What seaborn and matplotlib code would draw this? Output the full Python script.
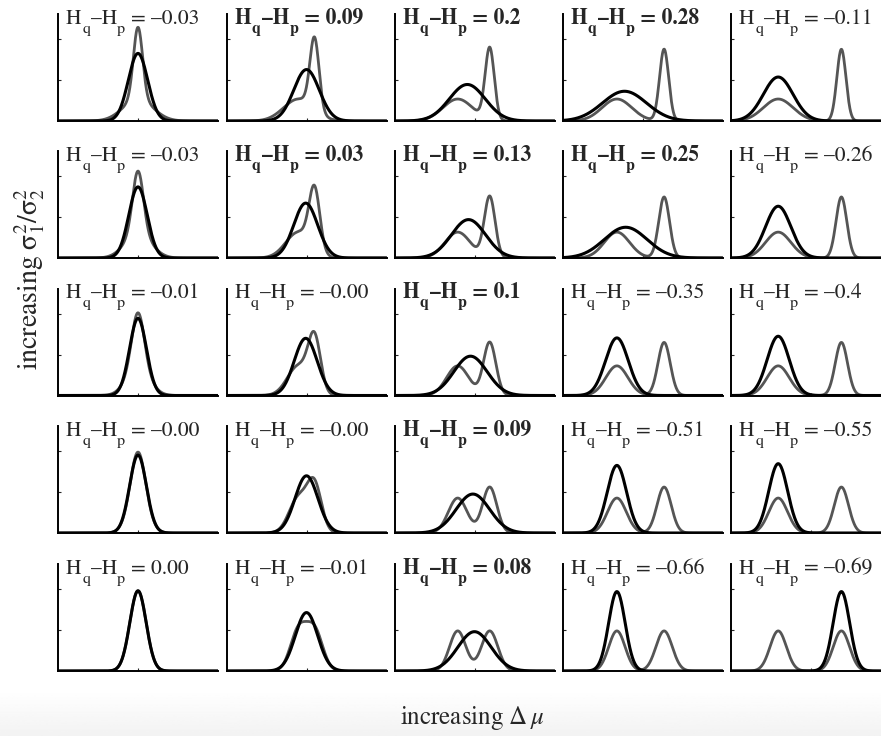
import numpy as np
import pandas as pd
import matplotlib
matplotlib.use("Agg")
import matplotlib.pyplot as plt
import seaborn as sns

# mixture p = 0.5 N(m1, s1) + 0.5 N(m2, s2); columns = increasing delta mu, rows = decreasing variance ratio
m1_cols = [0.0, -0.10, -0.21, -0.32, -0.41]
m2_cols = [0.0, 0.10, 0.19, 0.27, 0.38]
s1_rows = [0.186, 0.158, 0.138, 0.117, 0.102]
s2_rows = [0.057, 0.067, 0.077, 0.089, 0.102]

# fitted gaussian q (mean, sd) per panel
q_mean = [
    [0.0, 0.0, -0.09, -0.225, -0.41],
    [0.0, -0.01, -0.075, -0.21, -0.41],
    [0.0, -0.01, -0.05, -0.32, -0.41],
    [0.0, 0.0, -0.02, -0.32, -0.41],
    [0.0, 0.0, 0.0, -0.32, 0.38],
]
q_sd = [
    [0.121, 0.159, 0.224, 0.275, 0.186],
    [0.115, 0.149, 0.213, 0.266, 0.158],
    [0.106, 0.143, 0.208, 0.142, 0.138],
    [0.105, 0.143, 0.210, 0.121, 0.118],
    [0.102, 0.140, 0.208, 0.103, 0.103],
]

# H_q - H_p labels (bold where positive)
dh_labels = [
    ["–0.03", "0.09", "0.2", "0.28", "–0.11"],
    ["–0.03", "0.03", "0.13", "0.25", "–0.26"],
    ["–0.01", "–0.00", "0.1", "–0.35", "–0.4"],
    ["–0.00", "–0.00", "0.09", "–0.51", "–0.55"],
    ["0.00", "–0.01", "0.08", "–0.66", "–0.69"],
]
dh_bold = [
    [False, True, True, True, False],
    [False, True, True, True, False],
    [False, False, True, False, False],
    [False, False, True, False, False],
    [False, False, True, False, False],
]


def gauss(x, m, s):
    return np.exp(-0.5 * ((x - m) / s) ** 2) / (s * np.sqrt(2 * np.pi))


sns.set_style("white")
plt.rcParams["mathtext.fontset"] = "stix"
plt.rcParams["font.family"] = ["STIXGeneral", "DejaVu Serif"]

W, H = 881, 736
fig = plt.figure(figsize=(W / 100, H / 100), dpi=100)

# faint grey band at the bottom of the screenshot
band = fig.add_axes([0, 0, 1, 46 / H])
band.imshow(np.linspace(1.0, 0.95, 50)[:, None] * np.ones((1, 2)), cmap="gray", vmin=0, vmax=1,
            aspect="auto", extent=[0, 1, 0, 1])
band.axis("off")

xs = np.linspace(-1, 1, 600)
col_left = [58, 226.5, 394.5, 562.5, 731]
row_base = [121, 258, 395.5, 533, 671]
pw, ph = 160, 106.6

# title pieces: (text, x offset px, baseline offset px below axes top, small?)
offs_normal = [("H", 8, 9.5, False), ("q", 24.5, 18.5, True), ("–H", 33, 9.5, False),
               ("p", 59, 18.5, True), (None, 73, 9.5, False)]
offs_bold = [("H", 8.5, 9.5, False), ("q", 25.5, 18.5, True), ("–H", 35.5, 9.5, False),
             ("p", 63, 18.5, True), (None, 77.5, 9.5, False)]

for r in range(5):
    for c in range(5):
        ax = fig.add_axes([col_left[c] / W, 1 - row_base[r] / H, pw / W, ph / H])
        p = 0.5 * gauss(xs, m1_cols[c], s1_rows[r]) + 0.5 * gauss(xs, m2_cols[c], s2_rows[r])
        q = gauss(xs, q_mean[r][c], q_sd[r][c])
        df = pd.DataFrame({"x": xs, "p": p, "q": q})
        sns.lineplot(data=df, x="x", y="p", ax=ax, color="#555555", lw=2.0)
        sns.lineplot(data=df, x="x", y="q", ax=ax, color="black", lw=2.2)
        ax.set_xlim(-1, 1)
        ax.set_ylim(0, 5.2)
        ax.set_xticks([0])
        ax.set_yticks([2, 4])
        ax.set_xticklabels([])
        ax.set_yticklabels([])
        ax.set_xlabel("")
        ax.set_ylabel("")
        ax.tick_params(direction="in", length=2.5, width=0.8, bottom=True, left=True)
        for side in ["top", "right"]:
            ax.spines[side].set_visible(False)
        for side in ["left", "bottom"]:
            ax.spines[side].set_color("black")
            ax.spines[side].set_linewidth(1.4)

        bold = dh_bold[r][c]
        top = row_base[r] - ph
        for s, dx, dy, small in (offs_bold if bold else offs_normal):
            if s is None:
                s = "= " + dh_labels[r][c]
            fig.text((col_left[c] + dx) / W, 1 - (top + dy) / H, s,
                     fontsize=11.5 if small else 15.5,
                     fontweight="bold" if bold else "normal",
                     ha="left", va="baseline")

fig.text(30 / W, 1 - 279 / H, r"increasing $\mathrm{σ}_1^2/\mathrm{σ}_2^2$", rotation=90,
         ha="center", va="center", fontsize=20)
fig.text(472 / W, 1 - 718 / H, r"increasing $\Delta\,\mu$", ha="center", va="center", fontsize=18)

fig.savefig("out.png", dpi=100)
